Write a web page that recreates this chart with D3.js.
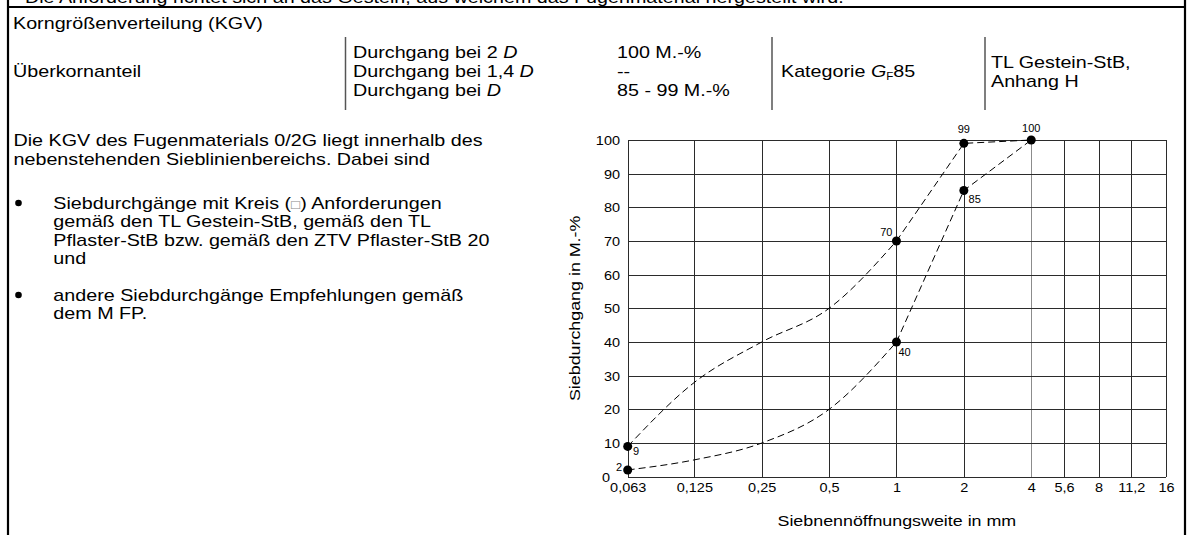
<!DOCTYPE html>
<html>
<head>
<meta charset="utf-8">
<script src="https://cdn.jsdelivr.net/npm/d3@7"></script>
<style>
    body { margin: 0; background: #fff; }
    svg { display: block; font-family: "Liberation Sans", Arial, sans-serif; }
</style>
</head>
<body>
<svg id="page" width="1190" height="535"></svg>
<script>
// Sieve line data (Sieblinienbereich Fugenmaterial 0/2G)
const sieves = [0.063, 0.125, 0.25, 0.5, 1, 2, 4];
const upperLimit = [9, 28, 40, 50, 70, 99, 100];
const lowerLimit = [2, 5, 10, 20, 40, 85, 100];

// sieves with a requirement (dot + value)
const upperMarked = [0.063, 1, 2, 4];
const lowerMarked = [0.063, 1, 2];

// axes
const xTickValues = [0.063, 0.125, 0.25, 0.5, 1, 2, 4, 5.6, 8, 11.2, 16];
const xTickLabels = ["0,063", "0,125", "0,25", "0,5", "1", "2", "4", "5,6", "8", "11,2", "16"];
const yTickValues = [0, 10, 20, 30, 40, 50, 60, 70, 80, 90, 100];

// text of the page
const topLine = "Die Anforderung richtet sich an das Gestein, aus welchem das Fugenmaterial hergestellt wird.";
const introLines = ["Die KGV des Fugenmaterials 0/2G liegt innerhalb des", "nebenstehenden Sieblinienbereichs. Dabei sind"];
const bullet1 = ["Siebdurchgänge mit Kreis (\u25A1) Anforderungen", "gemäß den TL Gestein-StB, gemäß den TL", "Pflaster-StB bzw. gemäß den ZTV Pflaster-StB 20", "und"];
const bullet2 = ["andere Siebdurchgänge Empfehlungen gemäß", "dem M FP."];
const passValues = ["100 M.-%", "--", "85 - 99 M.-%"];

const SX = 1.16; // the source font runs a bit wide

const svg = d3.select("#page");

// text helper, stretched horizontally
function txt(g, x, y, s, size, anchor) {
    return g.append("text")
        .attr("transform", `translate(${x},${y}) scale(${SX},1)`)
        .attr("font-size", size)
        .attr("text-anchor", anchor || "start")
        .attr("fill", "#000")
        .text(s);
}

// ---- frame of the table
const frame = svg.append("g").attr("stroke", "#000").attr("stroke-width", 2.2);
frame.append("line").attr("x1", 8).attr("x2", 8).attr("y1", 0).attr("y2", 535);
frame.append("line").attr("x1", 1185).attr("x2", 1185).attr("y1", 0).attr("y2", 535);
frame.append("line").attr("x1", 8).attr("x2", 1185).attr("y1", 7).attr("y2", 7);

// first row is cut off at the top edge, like in the source
txt(svg, 25, 2.5, topLine, 17);

// ---- table rows
const BODY = 17;
txt(svg, 13, 29, "Korngrößenverteilung (KGV)", BODY);
txt(svg, 13, 77.3, "Überkornanteil", BODY);

const rowY = [58.3, 77.3, 96.3];
const seps = svg.append("g").attr("stroke", "#555").attr("stroke-width", 1.5);
[345.5, 772, 985].forEach(x => {
    seps.append("line").attr("x1", x).attr("x2", x).attr("y1", 37).attr("y2", 110);
});

const passLabels = [["Durchgang bei 2 ", "D"], ["Durchgang bei 1,4 ", "D"], ["Durchgang bei ", "D"]];
passLabels.forEach((p, i) => {
    const t = txt(svg, 353, rowY[i], "", BODY);
    t.append("tspan").text(p[0]);
    t.append("tspan").attr("font-style", "italic").text(p[1]);
});
passValues.forEach((v, i) => txt(svg, 617, rowY[i], v, BODY));

const kat = txt(svg, 781, 77.3, "", BODY);
kat.append("tspan").text("Kategorie ");
kat.append("tspan").attr("font-style", "italic").text("G");
kat.append("tspan").attr("font-size", 10).attr("dy", 3).text("F");
kat.append("tspan").attr("dy", -3).text("85");

txt(svg, 991, 67.8, "TL Gestein-StB,", BODY);
txt(svg, 991, 86.8, "Anhang H", BODY);

// ---- left text
introLines.forEach((s, i) => txt(svg, 13.5, 146 + i * 18.5, s, BODY));
bullet1.forEach((s, i) => {
    const t = txt(svg, 53.3, 208.5 + i * 18.5, "", BODY);
    // the box glyph is drawn thin and grey in the source
    s.split("\u25A1").forEach((part, j) => {
        if (j > 0) t.append("tspan").attr("fill", "#888").attr("font-size", 13).text("\u25A1");
        t.append("tspan").text(part);
    });
});
bullet2.forEach((s, i) => txt(svg, 53.3, 300.5 + i * 18.5, s, BODY));
[203, 295].forEach(y => svg.append("circle").attr("cx", 18.5).attr("cy", y).attr("r", 3.3).attr("fill", "#000"));

// ---- chart
const x = d3.scaleLog().domain([0.063, 16]).range([627.7, 1166]);
const y = d3.scaleLinear().domain([0, 100]).range([476.7, 140]);

const chart = svg.append("g");

// grid
const grid = chart.append("g").attr("stroke-width", 1).attr("shape-rendering", "crispEdges");
grid.selectAll(".vg")
    .data(xTickValues)
    .enter()
    .append("line")
    .attr("x1", d => Math.round(x(d)) + 0.5)
    .attr("x2", d => Math.round(x(d)) + 0.5)
    .attr("y1", y(100))
    .attr("y2", y(0))
    .attr("stroke", d => d === 4 ? "#8c8c8c" : "#2b2b2b");
grid.selectAll(".hg")
    .data(yTickValues)
    .enter()
    .append("line")
    .attr("x1", x(0.063))
    .attr("x2", x(16))
    .attr("y1", d => Math.round(y(d)) + 0.5)
    .attr("y2", d => Math.round(y(d)) + 0.5)
    .attr("stroke", "#2b2b2b");

// axes (labels only, grid above does the lines)
const yAxis = chart.append("g")
    .attr("transform", `translate(${x(0.063)},0)`)
    .call(d3.axisLeft(y).tickValues(yTickValues).tickSize(0));
yAxis.select(".domain").remove();
yAxis.selectAll("text")
    .attr("font-size", 12.5)
    .attr("font-family", "Liberation Sans, Arial, sans-serif")
    .attr("fill", "#000")
    .attr("x", d => (d === 0 ? -17.7 : -7.7) / SX)
    .attr("dy", "0.36em")
    .attr("transform", `scale(${SX},1)`);

const xAxis = chart.append("g")
    .attr("transform", `translate(0,${y(0)})`)
    .call(d3.axisBottom(x).tickValues(xTickValues).tickSize(0).tickFormat((d, i) => xTickLabels[i]));
xAxis.select(".domain").remove();
xAxis.selectAll("text")
    .attr("font-size", 12.5)
    .attr("font-family", "Liberation Sans, Arial, sans-serif")
    .attr("fill", "#000")
    .attr("y", 15.3)
    .attr("dy", 0)
    .attr("transform", `scale(${SX},1)`);

// axis titles
txt(chart, (x(0.063) + x(16)) / 2, 526, "Siebnennöffnungsweite in mm", 15.4, "middle");
chart.append("text")
    .attr("transform", `translate(579.5,${y(50)}) rotate(-90) scale(${SX},1)`)
    .attr("font-size", 15.4)
    .attr("text-anchor", "middle")
    .text("Siebdurchgang in M.-%");

// dashed limit curves: smooth up to 1 mm, straight above
function limitPaths(values) {
    const pts = sieves.map((s, i) => ({s: s, v: values[i]}));
    const smooth = d3.line().x(d => x(d.s)).y(d => y(d.v)).curve(d3.curveMonotoneX);
    const straight = d3.line().x(d => x(d.s)).y(d => y(d.v));
    [smooth(pts.filter(d => d.s <= 1)), straight(pts.filter(d => d.s >= 1))].forEach(p => {
        chart.append("path")
            .attr("d", p)
            .attr("fill", "none")
            .attr("stroke", "#000")
            .attr("stroke-width", 1)
            .attr("stroke-dasharray", "7,4");
    });
}
limitPaths(upperLimit);
limitPaths(lowerLimit);

// dots with values
const valueAt = (values, s) => values[sieves.indexOf(s)];
const dots = upperMarked.map(s => ({key: "u" + s, s: s, v: valueAt(upperLimit, s)}))
    .concat(lowerMarked.map(s => ({key: "l" + s, s: s, v: valueAt(lowerLimit, s)})));

// label placement around each dot: dx, dy, anchor
const place = {
    "u0.063": [5.3, 8.6, "start"],
    "u1": [-4, -5, "end"],
    "u2": [0, -10, "middle"],
    "u4": [0, -8, "middle"],
    "l0.063": [-5.5, 1.5, "end"],
    "l1": [2, 14, "start"],
    "l2": [4.7, 12.8, "start"]
};

chart.selectAll(".dot")
    .data(dots)
    .enter()
    .append("circle")
    .attr("class", "dot")
    .attr("cx", d => x(d.s))
    .attr("cy", d => y(d.v))
    .attr("r", 4.5)
    .attr("fill", "#000");

chart.selectAll(".dot-label")
    .data(dots)
    .enter()
    .append("text")
    .attr("class", "dot-label")
    .attr("x", d => x(d.s) + place[d.key][0])
    .attr("y", d => y(d.v) + place[d.key][1])
    .attr("text-anchor", d => place[d.key][2])
    .attr("font-size", 11)
    .text(d => d.v);
</script>
</body>
</html>
